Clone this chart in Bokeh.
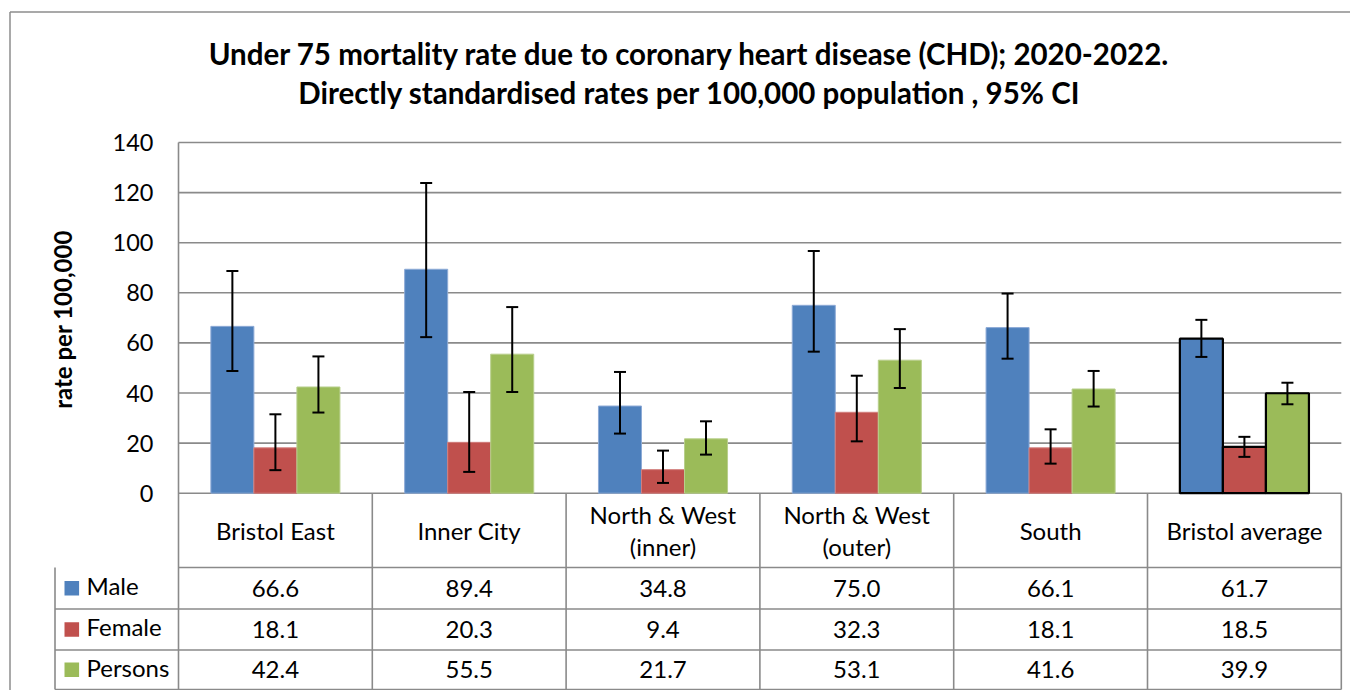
import math
from bokeh.plotting import figure
from bokeh.models import Range1d, FixedTicker, Whisker, ColumnDataSource, TeeHead
from bokeh.core.properties import value
from bokeh.embed import file_html
from bokeh.resources import INLINE

# ---------------- data ----------------
categories = ["Bristol East", "Inner City", "North & West\n(inner)", "North & West\n(outer)", "South", "Bristol average"]
series_names = ["Male", "Female", "Persons"]
male = [66.6, 89.4, 34.8, 75.0, 66.1, 61.7]
female = [18.1, 20.3, 9.4, 32.3, 18.1, 18.5]
persons = [42.4, 55.5, 21.7, 53.1, 41.6, 39.9]
male_lo = [48.8, 62.3, 23.8, 56.5, 53.7, 54.4]
male_hi = [88.7, 123.8, 48.4, 96.7, 79.7, 69.2]
female_lo = [9.2, 8.5, 4.1, 20.7, 11.8, 14.5]
female_hi = [31.5, 40.4, 17.0, 46.9, 25.5, 22.5]
persons_lo = [32.2, 40.4, 15.4, 42.0, 34.6, 35.5]
persons_hi = [54.6, 74.3, 28.7, 65.5, 48.8, 44.1]
y_ticks = [0, 20, 40, 60, 80, 100, 120, 140]
title_lines = ["Under 75 mortality rate due to coronary heart disease (CHD); 2020-2022.",
               "Directly standardised rates per 100,000 population , 95% CI"]
y_label = "rate per 100,000"

colors = ["#4F81BD", "#C0504D", "#9BBB59"]
edges = ["#8DAAD6", "#D27F7D", "#B8CF8C"]
FONT = "Lato"
GRID = "#8A8A8A"
W, H = 1350, 690

# ---------------- layout helpers (canvas pixel -> data) ----------------
PX_X = 193.8   # px per category
PX_Y = 2.505   # px per rate unit
X0_PX = 178.0
Y0_PX = 492.7
def xd(px):
    return (px - X0_PX) / PX_X
def yd(py):
    return (Y0_PX - py) / PX_Y

p = figure(width=W, height=H,
           x_range=Range1d(xd(0), xd(W)), y_range=Range1d(yd(H), yd(0)),
           output_backend="svg", toolbar_location=None, x_axis_location=None,
           min_border_left=0, min_border_right=0, min_border_top=0, min_border_bottom=0,
           background_fill_color="white", border_fill_color="white", outline_line_color=None)
p.xgrid.visible = False
p.ygrid.visible = False

# y axis drawn at the left edge of the plot area
ax = p.yaxis[0]
ax.fixed_location = 0
ax.bounds = (0, 140)
ax.ticker = FixedTicker(ticks=y_ticks)
ax.axis_line_color = None
ax.major_tick_out = 0
ax.major_tick_in = 0
ax.minor_tick_line_color = None
ax.major_tick_line_color = None
ax.major_label_standoff = 25
ax.major_label_text_font = FONT
ax.major_label_text_font_size = "23.5px"
ax.major_label_text_color = "black"

n = len(categories)
# horizontal grid lines at the tick values
p.segment(x0=[0] * len(y_ticks), y0=y_ticks, x1=[n] * len(y_ticks), y1=y_ticks,
          line_color=GRID, line_width=1.6)

# bars + error bars
bw = 0.222
offsets = [-bw, 0.0, bw]
all_vals = [male, female, persons]
all_lo = [male_lo, female_lo, persons_lo]
all_hi = [male_hi, female_hi, persons_hi]
for k in range(3):
    xs = [i + 0.5 + offsets[k] for i in range(n)]
    lc = [edges[k]] * (n - 1) + ["black"]
    lw = [1] * (n - 1) + [2.2]
    src = ColumnDataSource(dict(x=xs, top=all_vals[k], lo=all_lo[k], hi=all_hi[k], lc=lc, lw=lw))
    p.vbar(x="x", top="top", bottom=0, width=bw, source=src,
           fill_color=colors[k], line_color="lc", line_width="lw")
    w = Whisker(source=src, base="x", lower="lo", upper="hi", dimension="height",
                line_color="black", line_width=2, level="overlay",
                upper_head=TeeHead(size=12, line_color="black", line_width=2),
                lower_head=TeeHead(size=12, line_color="black", line_width=2))
    p.add_layout(w)

# data table under the chart
row_lines = [yd(567), yd(608.5), yd(649.5), yd(689)]
left_col = xd(54.5)
p.segment(x0=[0, left_col, left_col, left_col], y0=row_lines,
          x1=[n] * 4, y1=row_lines, line_color=GRID, line_width=1.6)
vx = [0] + list(range(1, n + 1)) + [left_col]
vy0 = [140] + [0] * n + [row_lines[0]]
p.segment(x0=vx, y0=vy0, x1=vx, y1=[row_lines[-1]] * len(vx), line_color=GRID, line_width=1.6)

centers = [i + 0.5 for i in range(n)]
p.text(x=centers, y=[yd(530)] * n, text=categories, text_align="center", text_baseline="middle",
       text_font=value(FONT), text_font_size="24px", text_color="black", text_line_height=1.13)
row_y = [(row_lines[j] + row_lines[j + 1]) / 2 for j in range(3)]
for k in range(3):
    p.text(x=centers, y=[row_y[k]] * n, text=[f"{v:.1f}" for v in all_vals[k]],
           text_align="center", text_baseline="middle",
           text_font=value(FONT), text_font_size="24px", text_color="black")

# legend column
sq = 14.6
p.rect(x=[xd(71.3)] * 3, y=row_y, width=sq, height=sq, width_units="screen", height_units="screen",
       fill_color=colors, line_color=None)
p.text(x=[xd(86)] * 3, y=[v + 1.0 for v in row_y], text=series_names, text_align="left",
       text_baseline="middle", text_font=value(FONT), text_font_size="24px", text_color="black")

# y axis title
p.text(x=[xd(62)], y=[yd(319)], text=[y_label], angle=math.pi / 2, text_align="center",
       text_baseline="middle", text_font=value(FONT), text_font_size="24px",
       text_font_style="bold", text_color="black")

# chart title
p.text(x=[xd(689)] * 2, y=[yd(53), yd(92)], text=title_lines, text_align="center",
       text_baseline="middle", text_font=value(FONT), text_font_size="29.5px",
       text_font_style="bold", text_color="black")

# outer chart border (only left/top edges fall inside the window)
bx, by = xd(9.5), yd(11.5)
p.segment(x0=[bx, bx], y0=[by, by], x1=[xd(W + 20), bx], y1=[by, yd(H + 20)],
          line_color="#8C8C8C", line_width=1.5)

open("out.html", "w").write(file_html(p, INLINE))
